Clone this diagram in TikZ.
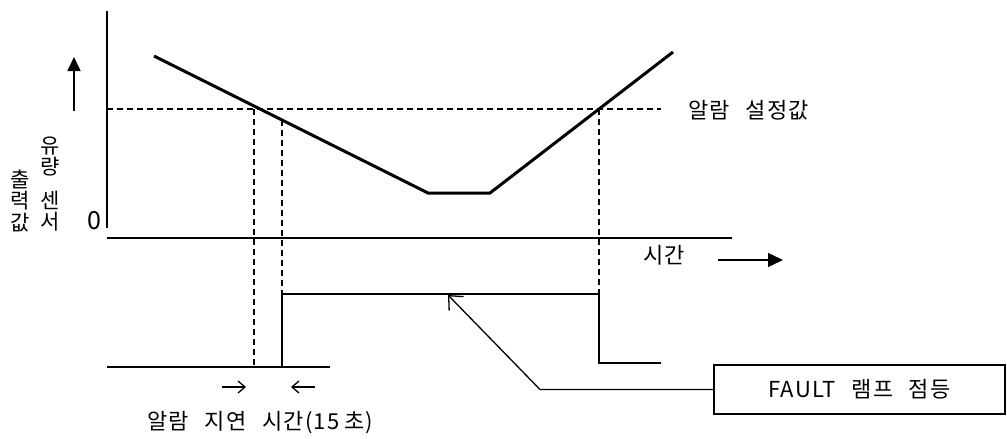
\documentclass[tikz,border=0pt]{standalone}
\usepackage{fontspec}
\setmainfont{Noto Sans CJK KR}[WordSpace=2.5, LetterSpace=6]
\usetikzlibrary{arrows.meta}

\begin{document}
\begin{tikzpicture}[x=1pt, y=-1pt,
  txt/.style={inner sep=0pt, font=\fontsize{22}{24}\selectfont},
  vtxt/.style={inner sep=0pt, align=center, font=\fontsize{21}{21.5}\selectfont},
  axisline/.style={line width=2.6pt},
  signal/.style={line width=3pt},
  pulse/.style={line width=2.4pt},
  guide/.style={line width=1.3pt, dash pattern=on 6pt off 4pt},
  lead/.style={line width=1.3pt}]
\useasboundingbox (0,0) rectangle (1007,439);
% axes
\coordinate (ytop) at (107,11);
\coordinate (yorg) at (107,228);
\coordinate (xorg) at (107,238);
\coordinate (xend) at (732,238);
\draw[axisline] (ytop) -- (yorg);
\draw[line width=2pt] (xorg) -- (xend);
\node[txt, font=\fontsize{25}{25}\selectfont] (zero) at (94,221) {0};
\node[vtxt] (lbla) at (50,184) {유\\량\\[12pt]센\\서};
\node[vtxt] (lblb) at (20,201) {출\\력\\값};
\coordinate (upa) at (74,111);
\coordinate (upb) at (74,57);
\draw[line width=1.6pt, -{Triangle[length=14pt, width=13pt]}] (upa) -- (upb);
%
\coordinate (c1) at (154,56);
\coordinate (c2) at (428,193);
\coordinate (c3) at (490,193);
\coordinate (c4) at (673,52);
\draw[signal] (c1) -- (c2) -- (c3) -- (c4);
\coordinate (th1) at (107,109);
\coordinate (th2) at (661,109);
\draw[guide] (th1) -- (th2);
\node[txt, anchor=west] (alarm) at (688,110) {알람 설정값};
%
\node[txt, anchor=west] (time) at (643,255) {시간};
\coordinate (ta) at (718,260);
\coordinate (tb) at (783,260);
\draw[line width=1.6pt, -{Triangle[length=15pt, width=14pt]}] (ta) -- (tb);
% pulse
\coordinate (p0) at (107,367);
\coordinate (p1) at (330,367);
\coordinate (r0) at (282,367);
\coordinate (r1) at (282,294);
\coordinate (f1) at (599,294);
\coordinate (f0) at (599,363);
\coordinate (p2) at (661,363);
\draw[pulse] (p0) -- (p1);
\draw[pulse] (r0) -- (r1) -- (f1) -- (f0) -- (p2);
\draw[guide] (254,109) -- (254,367);
\draw[guide] (282,120) -- (r1);
\draw[guide] (599,109) -- (f1);
%
\coordinate (da) at (222,387);
\coordinate (db) at (246,387);
\coordinate (dc) at (315,387);
\coordinate (dd) at (291,387);
\draw[lead, -{Straight Barb[length=7pt, width=12pt]}] (da) -- (db);
\draw[lead, -{Straight Barb[length=7pt, width=12pt]}] (dc) -- (dd);
\node[txt, anchor=west] (delay) at (147,423) {알람 지연 시간(15\hspace{0.2em}초)};
%
\node[draw, line width=2pt, minimum width=291pt, minimum height=49pt,
  font=\fontsize{22}{24}\selectfont] (fault) at (859.5,389.5) {FAULT 램프 점등};
\coordinate (bend) at (540,389.5);
\coordinate (tip) at (448,295);
\draw[lead, -{Straight Barb[length=11pt, width=20pt]}] (fault.west) -- (bend) -- (tip);
\end{tikzpicture}
\end{document}
